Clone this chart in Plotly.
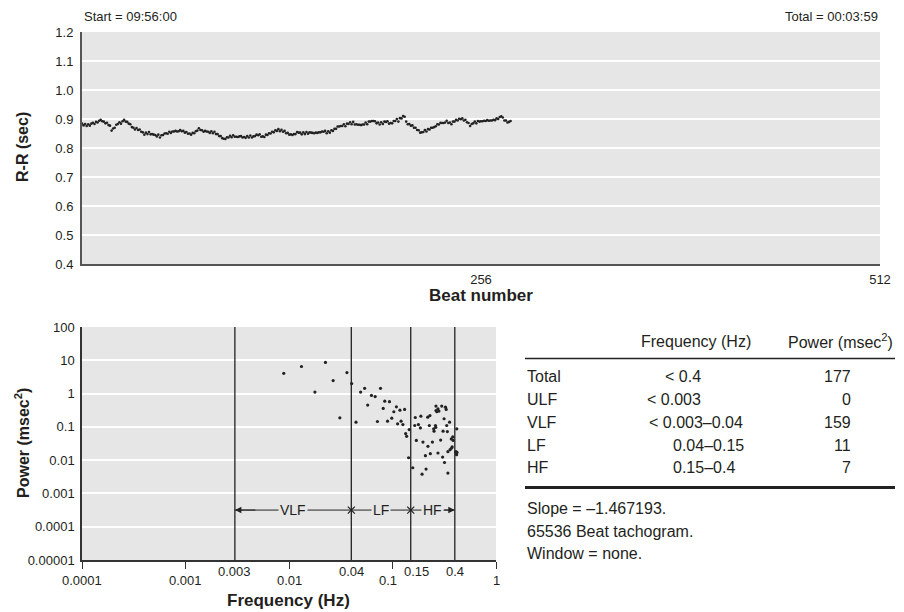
import math
import plotly.graph_objects as go

# ---------------- data ----------------
rr_sec = [
    0.884, 0.878, 0.883, 0.876, 0.882, 0.877, 0.884, 0.887, 0.883, 0.890,
    0.888, 0.894, 0.897, 0.892, 0.891, 0.885, 0.887, 0.879, 0.877, 0.860,
    0.867, 0.870, 0.880, 0.883, 0.889, 0.884, 0.892, 0.897, 0.891, 0.890,
    0.884, 0.882, 0.872, 0.870, 0.864, 0.869, 0.862, 0.864, 0.856, 0.854,
    0.846, 0.853, 0.848, 0.855, 0.847, 0.848, 0.846, 0.845, 0.840, 0.846,
    0.836, 0.844, 0.845, 0.850, 0.851, 0.849, 0.856, 0.852, 0.857, 0.857,
    0.859, 0.857, 0.858, 0.862, 0.858, 0.859, 0.853, 0.855, 0.849, 0.850,
    0.846, 0.852, 0.851, 0.858, 0.860, 0.868, 0.862, 0.861, 0.856, 0.859,
    0.857, 0.856, 0.852, 0.858, 0.851, 0.856, 0.848, 0.848, 0.841, 0.841,
    0.834, 0.832, 0.831, 0.837, 0.836, 0.842, 0.837, 0.844, 0.839, 0.839,
    0.838, 0.840, 0.841, 0.836, 0.838, 0.835, 0.841, 0.836, 0.843, 0.836,
    0.840, 0.841, 0.846, 0.844, 0.847, 0.839, 0.840, 0.838, 0.846, 0.845,
    0.851, 0.850, 0.856, 0.854, 0.861, 0.859, 0.865, 0.858, 0.863, 0.856,
    0.859, 0.851, 0.852, 0.846, 0.847, 0.845, 0.848, 0.848, 0.855, 0.853,
    0.853, 0.847, 0.854, 0.848, 0.855, 0.849, 0.854, 0.853, 0.852, 0.851,
    0.853, 0.852, 0.854, 0.854, 0.857, 0.856, 0.859, 0.851, 0.858, 0.853,
    0.861, 0.859, 0.866, 0.866, 0.874, 0.874, 0.876, 0.876, 0.882, 0.875,
    0.884, 0.883, 0.889, 0.882, 0.890, 0.881, 0.882, 0.880, 0.880, 0.879,
    0.881, 0.881, 0.888, 0.882, 0.891, 0.891, 0.893, 0.893, 0.892, 0.885,
    0.888, 0.881, 0.889, 0.883, 0.891, 0.890, 0.892, 0.884, 0.886, 0.885,
    0.893, 0.893, 0.900, 0.891, 0.903, 0.902, 0.910, 0.908, 0.891, 0.882,
    0.883, 0.877, 0.878, 0.870, 0.870, 0.862, 0.861, 0.853, 0.854, 0.855,
    0.862, 0.857, 0.865, 0.864, 0.870, 0.870, 0.872, 0.875, 0.882, 0.881,
    0.887, 0.886, 0.886, 0.888, 0.894, 0.886, 0.888, 0.882, 0.891, 0.891,
    0.897, 0.895, 0.901, 0.899, 0.902, 0.895, 0.897, 0.889, 0.886, 0.876,
    0.883, 0.885, 0.891, 0.885, 0.893, 0.891, 0.892, 0.892, 0.894, 0.893,
    0.896, 0.894, 0.895, 0.895, 0.897, 0.896, 0.902, 0.900, 0.907, 0.909,
    0.905, 0.895, 0.895, 0.888, 0.890, 0.893,
]
beat_number = list(range(len(rr_sec)))

spec_freq_hz = [
    0.0089, 0.0132, 0.0225, 0.0267, 0.0178, 0.0363, 0.031, 0.0403, 0.0444, 0.0492,
    0.0538, 0.0626, 0.068, 0.0766, 0.0576, 0.0715, 0.0842, 0.0935, 0.0813, 0.109,
    0.103, 0.118, 0.131, 0.0896, 0.0984, 0.112, 0.121, 0.126, 0.134, 0.137,
    0.145, 0.143, 0.157, 0.166, 0.164, 0.188, 0.178, 0.186, 0.170, 0.197,
    0.220, 0.208, 0.232, 0.211, 0.193, 0.219, 0.230, 0.243, 0.263, 0.275,
    0.299, 0.325, 0.330, 0.281, 0.268, 0.227, 0.260, 0.250, 0.262, 0.252,
    0.315, 0.356, 0.334, 0.308, 0.339, 0.292, 0.275, 0.305, 0.318, 0.343,
    0.360, 0.377, 0.370, 0.382, 0.385, 0.412, 0.416, 0.418, 0.343, 0.263,
    0.410, 0.420, 0.372,
]
spec_power = [
    4.07, 6.5, 8.6, 2.45, 1.11, 4.27, 0.187, 2.0, 0.138, 1.11,
    1.44, 0.88, 0.81, 1.44, 0.45, 0.145, 0.59, 0.57, 0.357, 0.40,
    0.284, 0.318, 0.333, 0.148, 0.182, 0.123, 0.148, 0.117, 0.063, 0.052,
    0.083, 0.0118, 0.0059, 0.191, 0.11, 0.209, 0.117, 0.093, 0.039, 0.035,
    0.026, 0.0136, 0.0156, 0.0054, 0.0038, 0.195, 0.219, 0.035, 0.31, 0.35,
    0.42, 0.39, 0.333, 0.297, 0.284, 0.11, 0.11, 0.087, 0.097, 0.074,
    0.175, 0.138, 0.11, 0.074, 0.072, 0.040, 0.0164, 0.0124, 0.0085, 0.018,
    0.0206, 0.0249, 0.0434, 0.0499, 0.039, 0.0171, 0.0146, 0.087, 0.0041, 0.42,
    0.018, 0.017, 0.023,
]

band_edges_hz = [0.003, 0.04, 0.15, 0.4]
band_names = ["VLF", "LF", "HF"]
band_row_power = 10 ** -3.5

rr_ticks = [0.4, 0.5, 0.6, 0.7, 0.8, 0.9, 1.0, 1.1, 1.2]
beat_ticks = [256, 512]
freq_decades = [0.0001, 0.001, 0.01, 0.1, 1]
freq_decade_labels = ["0.0001", "0.001", "0.01", "0.1", "1"]
band_edge_labels = ["0.003", "0.04", "0.15", "0.4"]
power_ticks = [0.00001, 0.0001, 0.001, 0.01, 0.1, 1, 10, 100]
power_tick_labels = ["0.00001", "0.0001", "0.001", "0.01", "0.1", "1", "10", "100"]

table_rows = ["Total", "ULF", "VLF", "LF", "HF"]
table_freq = ["&lt; 0.4", "&lt; 0.003", "&lt; 0.003\u20130.04", "0.04\u20130.15", "0.15\u20130.4"]
table_power = ["177", "0", "159", "11", "7"]
notes = ["Slope = \u20131.467193.", "65536 Beat tachogram.", "Window = none."]
start_text = "Start = 09:56:00"
total_text = "Total = 00:03:59"

# ---------------- layout helpers ----------------
W, H = 904, 612
FONT = "Liberation Sans, Arial, sans-serif"
TXT = "#231f20"
BG = "#e6e6e6"


def px(x):
    return x / W


def py(y):
    return (H - y) / H


def note(x, y, text, xanchor="center", size=16, angle=0, xref="paper", yref="paper", **kw):
    d = dict(x=x, y=y, xref=xref, yref=yref, text=text, showarrow=False,
             xanchor=xanchor, yanchor="middle", textangle=angle,
             font=dict(size=size, color=TXT, family=FONT))
    d.update(kw)
    return d


fig = go.Figure()

# top tachogram
fig.add_trace(go.Scatter(
    x=beat_number, y=rr_sec, mode="markers",
    marker=dict(size=2.6, color="#222"), xaxis="x", yaxis="y", showlegend=False,
))

# band boundary lines
for e in band_edges_hz:
    fig.add_trace(go.Scatter(
        x=[e, e], y=[power_ticks[0], power_ticks[-1]], mode="lines",
        line=dict(color="#222", width=1.3), xaxis="x2", yaxis="y2",
        showlegend=False, hoverinfo="skip",
    ))

# band arrow row
fig.add_trace(go.Scatter(
    x=[band_edges_hz[0], band_edges_hz[-1]], y=[band_row_power] * 2, mode="lines",
    line=dict(color="#222", width=1), xaxis="x2", yaxis="y2",
    showlegend=False, hoverinfo="skip",
))
fig.add_trace(go.Scatter(
    x=band_edges_hz[1:-1], y=[band_row_power] * (len(band_edges_hz) - 2), mode="markers",
    marker=dict(symbol="x-thin", size=7, line=dict(width=1.2, color="#222")),
    xaxis="x2", yaxis="y2", showlegend=False, hoverinfo="skip",
))

# spectrum points
fig.add_trace(go.Scatter(
    x=spec_freq_hz, y=spec_power, mode="markers",
    marker=dict(size=3.2, color="#222"), xaxis="x2", yaxis="y2", showlegend=False,
))

ann = []
# arrow heads
ylog = math.log10(band_row_power)
ann.append(dict(x=math.log10(band_edges_hz[0]), y=ylog, xref="x2", yref="y2",
                text="", showarrow=True, ax=22, ay=0, arrowhead=2, arrowsize=1.3,
                arrowwidth=1, arrowcolor="#222"))
ann.append(dict(x=math.log10(band_edges_hz[-1]), y=ylog, xref="x2", yref="y2",
                text="", showarrow=True, ax=-12, ay=0, arrowhead=2, arrowsize=1.3,
                arrowwidth=1, arrowcolor="#222"))
for i, name in enumerate(band_names):
    mid = (math.log10(band_edges_hz[i]) + math.log10(band_edges_hz[i + 1])) / 2
    ann.append(note(mid, ylog, name, size=14, xref="x2", yref="y2",
                    bgcolor=BG, borderpad=1))

# bottom x tick labels
for v, t in zip(freq_decades, freq_decade_labels):
    shift = -5 if t == "0.1" else 0
    ann.append(note(math.log10(v), py(580), t, size=13, xref="x2", xshift=shift))
for v, t in zip(band_edges_hz, band_edge_labels):
    shift = 6 if t == "0.15" else 0
    ann.append(note(math.log10(v), py(571), t, size=13, xref="x2", xshift=shift))

# titles
ann += [
    note(px(82), py(16), start_text, xanchor="left", size=13),
    note(px(880), py(16), total_text, xanchor="right", size=13),
    note(px(22), py(147), "<b>R-R (sec)</b>", size=16, angle=-90),
    note(px(481), py(296), "<b>Beat number</b>", size=17),
    note(px(22), py(443), "<b>Power (msec<sup>2</sup>)</b>", size=16, angle=-90),
    note(px(288), py(600), "<b>Frequency (Hz)</b>", size=17),
]

# table
ann.append(note(px(696), py(341), "Frequency (Hz)"))
ann.append(note(px(895), py(341), "Power (msec<sup>2</sup>)", xanchor="right"))
row_y = [376, 399, 422, 445, 468]
freq_anchor = [("right", 703), ("right", 703), ("left", 647), ("left", 671), ("left", 671)]
for i, yy in enumerate(row_y):
    ann.append(note(px(525), py(yy), table_rows[i], xanchor="left"))
    a, xx = freq_anchor[i]
    ann.append(note(px(xx), py(yy), table_freq[i], xanchor=a))
    ann.append(note(px(853), py(yy), table_power[i], xanchor="right"))
for i, t in enumerate(notes):
    ann.append(note(px(525), py(509 + 22 * i), t, xanchor="left"))

shapes = [
    dict(type="line", xref="paper", yref="paper", x0=px(525), x1=px(895),
         y0=py(358.5), y1=py(358.5), line=dict(color="#222", width=1.3)),
    dict(type="line", xref="paper", yref="paper", x0=px(525), x1=px(895),
         y0=py(487.5), y1=py(487.5), line=dict(color="#222", width=3)),
]

tick_font = dict(size=13, color=TXT, family=FONT)
fig.update_layout(
    width=W, height=H,
    margin=dict(l=0, r=0, t=0, b=0, pad=0, autoexpand=False),
    paper_bgcolor="white", plot_bgcolor=BG,
    font=dict(family=FONT, color=TXT),
    showlegend=False,
    annotations=ann, shapes=shapes,
    xaxis=dict(domain=[px(82), px(880)], range=[0, 512], anchor="y", automargin=False,
               tickvals=beat_ticks, ticktext=[str(v) for v in beat_ticks],
               tickfont=tick_font, showgrid=False, zeroline=False,
               showline=True, linecolor="#555", linewidth=2, ticks="",
               ticklabelstandoff=2),
    yaxis=dict(domain=[py(264), py(32)], range=[0.4, 1.2], anchor="x", automargin=False,
               tickvals=rr_ticks, ticktext=[f"{v:.1f}" for v in rr_ticks],
               tickfont=tick_font, gridcolor="white", gridwidth=1.5, zeroline=False,
               showline=True, linecolor="#555", linewidth=2, ticks="",
               ticklabelstandoff=4),
    xaxis2=dict(domain=[px(82), px(496)], type="log", range=[-4, 0], anchor="y2",
                automargin=False,
                tickvals=freq_decades, showticklabels=False, showgrid=False,
                zeroline=False, showline=True, linecolor="#333", linewidth=1.5,
                ticks="outside", ticklen=7, tickwidth=1, tickcolor="#333"),
    yaxis2=dict(domain=[py(560), py(327)], type="log", range=[-5, 2], anchor="x2",
                automargin=False,
                tickvals=power_ticks, ticktext=power_tick_labels, tickfont=tick_font,
                gridcolor="white", gridwidth=1.5, zeroline=False,
                showline=True, linecolor="#333", linewidth=1.5, ticks="",
                ticklabelstandoff=3),
)

fig.write_html(
    "out.html",
    config={"displayModeBar": False},
    post_script="document.body.style.margin='0';document.body.style.overflow='hidden';",
)
